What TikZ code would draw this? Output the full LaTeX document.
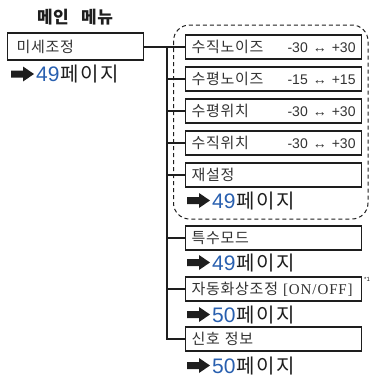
\documentclass[tikz,border=0pt]{standalone}
\usepackage{fontspec}
\setmainfont{Liberation Sans}
\newfontfamily\kr{Noto Sans CJK KR}
\newfontfamily\serifnum{Liberation Serif}
\definecolor{refblue}{RGB}{40,95,175}
\definecolor{ink}{RGB}{30,30,30}
\definecolor{boxtext}{RGB}{50,50,50}
\tikzset{
  menubox/.style={draw=ink,line width=1.1pt,minimum height=24pt,minimum width=176pt,
    text width=164pt,inner xsep=6pt,inner ysep=0pt,align=left,anchor=west,
    font=\kr\fontsize{15}{15}\selectfont\addfontfeatures{LetterSpace=5},text=boxtext},
  mainbox/.style={menubox,minimum height=27pt,minimum width=136pt,text width=118pt,inner xsep=9pt},
  pageref/.style={inner sep=0pt,anchor=base west,font=\fontsize{21}{22}\selectfont,text=ink},
  conn/.style={draw=ink,line width=1.4pt},
  bigarrow/.pic={\fill[ink] (-23,-3.5) -- (-11,-3.5) -- (-11,-7.5) -- (0,0) -- (-11,7.5) -- (-11,3.5) -- (-23,3.5) -- cycle;}
}
\newcommand{\refpage}[1]{\textcolor{refblue}{#1}\hspace{1pt}{\kr\fontsize{20}{22}\selectfont\addfontfeatures{LetterSpace=8}페이지}}
\newcommand{\rngtext}[1]{{\fontspec{Liberation Sans}\fontsize{14}{14}\selectfont #1}}
\begin{document}
\begin{tikzpicture}[x=1pt,y=-1pt]
\useasboundingbox (0,0) rectangle (370,376);
% title
\node[font=\kr\bfseries\fontsize{17}{17}\selectfont\addfontfeatures{LetterSpace=3},text=ink,inner sep=0pt] (title) at (75,17) {메인\hspace{8pt} 메뉴};
% main box
\node[mainbox] (main) at (7,46.5) {미세조정};
\node[pageref] (r0) at (36,81) {\refpage{49}};
\pic at ([xshift=-2pt]r0.base west |- 0,74) {bigarrow};
% dashed group
\draw[draw=ink,line width=1pt,dash pattern=on 4pt off 3pt,rounded corners=16pt] (173.5,25) rectangle (368,219);
% sub boxes
\node[menubox] (b1) at (185,47) {수직노이즈\hfill\rngtext{-30 ↔ +30}};
\node[menubox] (b2) at (185,79) {수평노이즈\hfill\rngtext{-15 ↔ +15}};
\node[menubox] (b3) at (185,111) {수평위치\hfill\rngtext{-30 ↔ +30}};
\node[menubox] (b4) at (185,143) {수직위치\hfill\rngtext{-30 ↔ +30}};
\node[menubox] (b5) at (185,175) {재설정};
\node[pageref] (r1) at (212,208) {\refpage{49}};
\pic at ([xshift=-2pt]r1.base west |- 0,200.5) {bigarrow};
\node[menubox] (b6) at (185,238) {특수모드};
\node[pageref] (r2) at (212,270) {\refpage{49}};
\pic at ([xshift=-2pt]r2.base west |- 0,262.5) {bigarrow};
\node[menubox] (b7) at (185,289) {자동화상조정 {\serifnum\fontsize{15}{15}\selectfont\addfontfeatures{LetterSpace=6}[ON/OFF]}};
\node[inner sep=0pt,anchor=west,font=\fontsize{6}{6}\selectfont,text=ink] (note) at (364,279) {*1};
\node[pageref] (r3) at (212,322) {\refpage{50}};
\pic at ([xshift=-2pt]r3.base west |- 0,314.5) {bigarrow};
\node[menubox] (b8) at (185,339) {신호 정보};
\node[pageref] (r4) at (212,373) {\refpage{50}};
\pic at ([xshift=-2pt]r4.base west |- 0,365.5) {bigarrow};
% connectors
\coordinate (trunk) at (167,47);
\draw[conn] (main.east |- b1.west) -- (b1.west);
\draw[conn,line join=miter] (trunk) -- (trunk |- b8.west) -- (b8.west);
\foreach \b in {b2,b3,b4,b5,b6,b7}{
  \draw[conn] (trunk |- \b.west) -- (\b.west);
}
\end{tikzpicture}
\end{document}
